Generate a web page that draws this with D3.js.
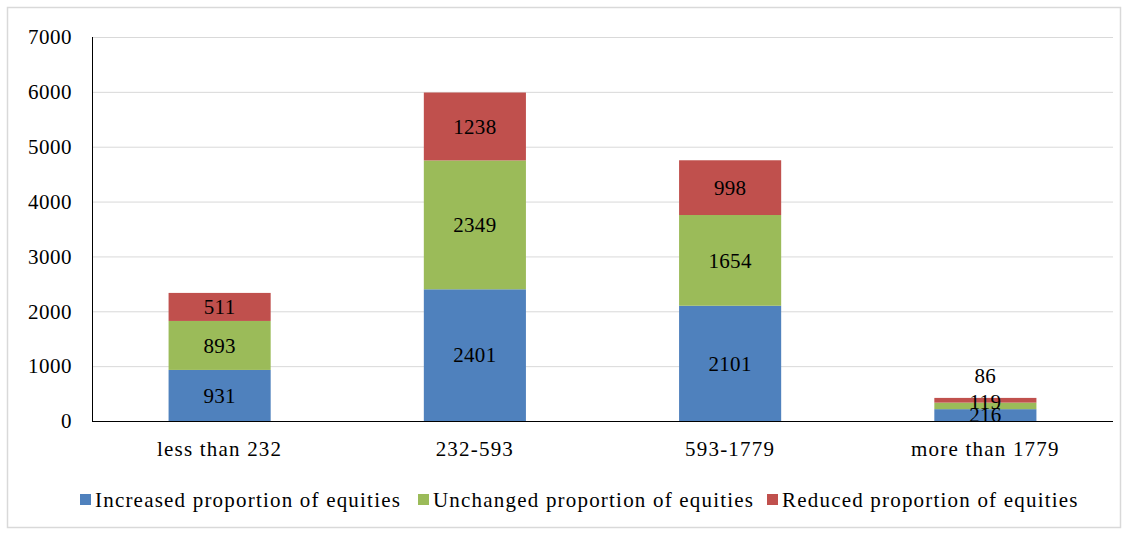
<!DOCTYPE html>
<html>
<head>
<meta charset="utf-8">
<script src="https://cdnjs.cloudflare.com/ajax/libs/d3/7.8.5/d3.min.js"></script>
<style>
  body { margin: 0; background: #fff; }
  text { font-family: "Liberation Serif", "Times New Roman", serif; fill: #000; }
</style>
</head>
<body>
<svg id="chart" width="1127" height="534"></svg>
<script>
var categories = ["less than 232", "232-593", "593-1779", "more than 1779"];
var seriesNames = ["Increased proportion of equities", "Unchanged proportion of equities", "Reduced proportion of equities"];
var increased = [931, 2401, 2101, 216];
var unchanged = [893, 2349, 1654, 119];
var reduced = [511, 1238, 998, 86];
var yTicks = [0, 1000, 2000, 3000, 4000, 5000, 6000, 7000];
var colors = ["#4f81bd", "#9bbb59", "#c0504d"];

var svg = d3.select("#chart"),
    margin = {top: 37, right: 14, bottom: 113, left: 92},
    width = +svg.attr("width") - margin.left - margin.right,
    height = +svg.attr("height") - margin.top - margin.bottom;

// outer frame
svg.append("rect")
    .attr("x", 7.5).attr("y", 7.5)
    .attr("width", 1113).attr("height", 520)
    .attr("fill", "none").attr("stroke", "#d9d9d9").attr("stroke-width", 1.5);

var table = categories.map(function(c, i) {
  return {cat: c, s0: increased[i], s1: unchanged[i], s2: reduced[i]};
});
var stack = d3.stack().keys(["s0", "s1", "s2"])(table);

var x = d3.scaleBand().domain(categories).range([0, width]).paddingInner(0.6).paddingOuter(0.3),
    y = d3.scaleLinear().domain([0, 7000]).range([height, 0]);

var g = svg.append("g").attr("transform", "translate(" + margin.left + "," + margin.top + ")");

// gridlines
g.selectAll(".grid").data(yTicks.slice(1)).enter().append("line")
    .attr("x1", 0).attr("x2", width)
    .attr("y1", function(d) { return y(d) + 0.5; })
    .attr("y2", function(d) { return y(d) + 0.5; })
    .attr("stroke", "#d9d9d9").attr("stroke-width", 1);

// y axis labels
var yAxis = g.append("g")
    .call(d3.axisLeft(y).tickValues(yTicks).tickSize(0).tickPadding(20).tickFormat(d3.format("d")));
yAxis.select(".domain").remove();
yAxis.selectAll("text").style("font-size", "21px").style("letter-spacing", "0.5px").attr("font-family", null);

// bars
var layers = g.selectAll(".layer").data(stack).enter().append("g")
    .attr("fill", function(d, i) { return colors[i]; });
layers.selectAll("rect").data(function(d) { return d; }).enter().append("rect")
    .attr("x", function(d) { return x(d.data.cat); })
    .attr("y", function(d) { return y(d[1]); })
    .attr("height", function(d) { return y(d[0]) - y(d[1]); })
    .attr("width", x.bandwidth());

// value labels, nudged up when crowded
categories.forEach(function(c, ci) {
  var prevY = null;
  stack.forEach(function(layer) {
    var d = layer[ci];
    var ly = (y(d[0]) + y(d[1])) / 2;
    if (prevY !== null && prevY - ly < 8) ly = prevY - 26;
    else if (prevY !== null && prevY - ly < 14) ly = prevY - 13;
    prevY = ly;
    g.append("text")
        .attr("x", x(c) + x.bandwidth() / 2)
        .attr("y", ly)
        .attr("dy", "0.35em")
        .attr("text-anchor", "middle")
        .style("font-size", "21px")
        .style("letter-spacing", "0.3px")
        .text(d[1] - d[0]);
  });
});

// axis lines
g.append("line").attr("x1", 0.5).attr("x2", 0.5).attr("y1", 0).attr("y2", height)
    .attr("stroke", "#000").attr("stroke-width", 1);
var xAxis = g.append("g").attr("transform", "translate(0," + height + ")")
    .call(d3.axisBottom(x).tickSize(0).tickPadding(20));
xAxis.select(".domain").attr("stroke", "#000").attr("d", "M0,0.5H" + width);
xAxis.selectAll("text").style("font-size", "21px").style("letter-spacing", "1.2px").attr("font-family", null);

// legend
var legendX = [80, 418, 767];
var legend = svg.selectAll(".legend").data(seriesNames).enter().append("g")
    .attr("transform", function(d, i) { return "translate(" + legendX[i] + ",500)"; });
legend.append("rect").attr("x", 0).attr("y", -6).attr("width", 11).attr("height", 11)
    .attr("fill", function(d, i) { return colors[i]; });
legend.append("text").attr("x", 15).attr("y", 0).attr("dy", "0.35em")
    .style("font-size", "21px").style("letter-spacing", "1.2px").text(function(d) { return d; });
</script>
</body>
</html>
